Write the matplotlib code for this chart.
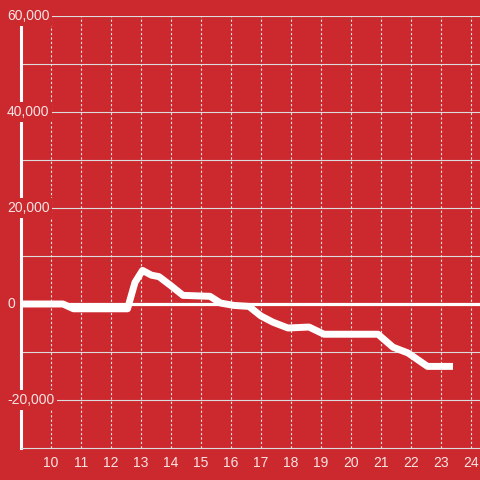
import matplotlib.pyplot as plt
from matplotlib.transforms import blended_transform_factory

# Data
hours = [9.0, 10.4, 10.75, 12.55, 12.8, 13.05, 13.35, 13.6, 14.0, 14.4, 15.3, 15.65,
         16.1, 16.6, 17.0, 17.4, 17.9, 18.6, 19.1, 20.9, 21.4, 21.9, 22.55, 23.4]
values = [0, 0, -1000, -1000, 4500, 7000, 6000, 5700, 3800, 1800, 1600, 200,
          -300, -500, -2500, -3800, -5000, -4800, -6300, -6300, -9000, -10200, -13000, -13000]
x_ticks = list(range(10, 25))
y_ticks = [-20000, 0, 20000, 40000, 60000]
y_grid = list(range(-20000, 60001, 10000))

bg = '#cc292e'
txt = '#f6e4e4'
plt.rcParams['font.family'] = ['Liberation Sans', 'DejaVu Sans']

fig = plt.figure(figsize=(4.8, 4.8), dpi=100, facecolor=bg)
ax = fig.add_axes([21 / 480, 32 / 480, 459 / 480, 432 / 480], facecolor=bg)

ax.set_xlim(9.0, 24.3)
ax.set_ylim(-30000, 60000)

# grid
for y in y_grid:
    if y == 0:
        ax.axhline(0, color='white', lw=2.3, zorder=2)
    else:
        ax.axhline(y, color='#dcdcdc', lw=0.8, zorder=1)
for x in x_ticks:
    ax.axvline(x, color='#e6e6e6', lw=0.8, ls=(0, (2, 2)), zorder=1)

# data line
ax.plot(hours, values, color='white', lw=5, solid_joinstyle='round',
        solid_capstyle='butt', zorder=3)

# spines
for s in ['top', 'right']:
    ax.spines[s].set_visible(False)
ax.spines['left'].set_color('white')
ax.spines['left'].set_linewidth(2.2)
ax.spines['bottom'].set_color('#dcdcdc')
ax.spines['bottom'].set_linewidth(0.8)

ax.set_xticks(x_ticks)
ax.set_xticklabels([str(t) for t in x_ticks])
ax.tick_params(axis='x', length=0, pad=6, labelsize=10, labelcolor=txt)
ax.set_yticks([])

# y labels sit on a red box that breaks the grid and the axis line
trans = blended_transform_factory(ax.transAxes, ax.transData)
for y in y_ticks:
    ax.text(-14 / 459, y, f'{y:,}', transform=trans, ha='left', va='center',
            fontsize=10, color=txt, zorder=5, clip_on=False,
            bbox=dict(facecolor=bg, edgecolor='none', pad=2))

fig.savefig('out.png', dpi=100, facecolor=bg)
